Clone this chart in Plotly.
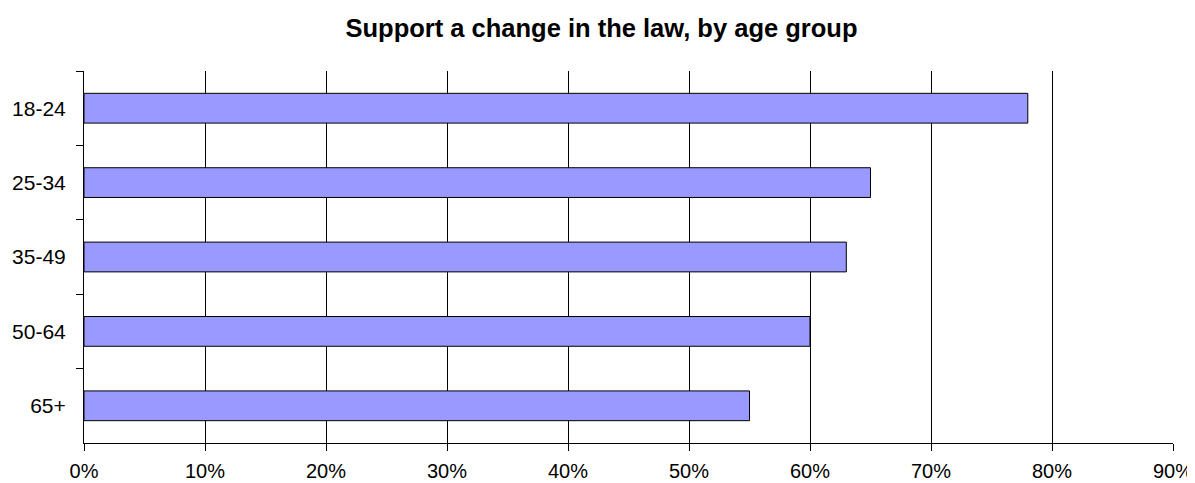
import plotly.graph_objects as go

age_groups = ["18-24", "25-34", "35-49", "50-64", "65+"]
support = [0.78, 0.65, 0.63, 0.60, 0.55]
x_ticks = [0, 0.1, 0.2, 0.3, 0.4, 0.5, 0.6, 0.7, 0.8, 0.9]
x_tick_labels = ["0%", "10%", "20%", "30%", "40%", "50%", "60%", "70%", "80%", "90%"]
title_text = "Support a change in the law, by age group"

fig = go.Figure(
    go.Bar(
        x=support,
        y=age_groups,
        orientation="h",
        width=0.4,
        marker=dict(color="#9999FF", line=dict(color="black", width=1)),
    )
)

font_family = "Liberation Sans, Arial, sans-serif"

# page body has an 8px margin, so the figure is sized/offset to compensate
fig.update_layout(
    width=1187,
    height=475,
    margin=dict(l=76, r=22, t=63, b=40, autoexpand=False),
    paper_bgcolor="white",
    plot_bgcolor="white",
    showlegend=False,
    font=dict(family=font_family, size=21, color="black"),
    title=dict(
        text="<b>" + title_text + "</b>",
        x=0.5,
        xanchor="center",
        xref="container",
        y=1 - 20 / 475,
        yanchor="middle",
        yref="container",
        font=dict(family=font_family, size=25.5, color="black"),
    ),
    bargap=0.6,
)

fig.update_xaxes(
    range=[0, 0.9],
    tickvals=x_ticks,
    ticktext=x_tick_labels,
    showgrid=True,
    gridcolor="black",
    gridwidth=1,
    zeroline=False,
    showline=True,
    linecolor="black",
    linewidth=1,
    ticks="outside",
    ticklen=7,
    tickcolor="black",
    ticklabelstandoff=3,
    tickfont=dict(size=20),
    automargin=False,
)

fig.update_yaxes(
    categoryorder="array",
    categoryarray=age_groups,
    autorange="reversed",
    showgrid=False,
    zeroline=False,
    showline=True,
    linecolor="black",
    linewidth=1,
    ticks="outside",
    tickson="boundaries",
    ticklen=7,
    tickcolor="black",
    ticklabelstandoff=13,
    tickfont=dict(size=21),
    automargin=False,
)

fig.write_html("out.html")
